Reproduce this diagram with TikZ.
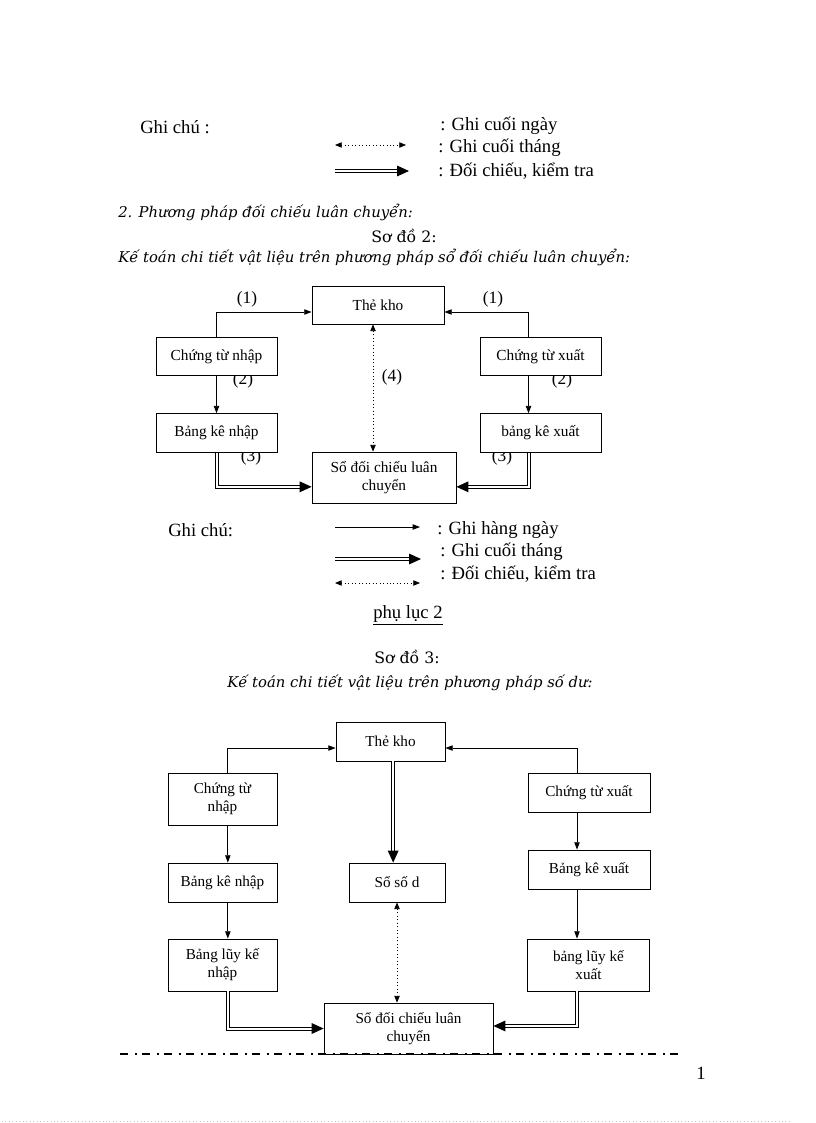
\documentclass[tikz,border=0pt]{standalone}
\usepackage{fontspec}
\setmainfont{Liberation Serif}
\newfontfamily\vnfont{DejaVu Serif}
\usetikzlibrary{arrows.meta}
\usetikzlibrary{positioning}

\tikzset{
  hop/.style={draw, line width=0.6pt, fill=white, inner sep=0pt, align=center,
    font=\fontsize{11.5}{14}\selectfont},
  hopb/.style={hop, font=\fontsize{11.4}{13.5}\selectfont},
  lbl/.style={font=\fontsize{13}{15}\selectfont},
  txt/.style={anchor=west, inner sep=0pt, font=\fontsize{14}{16}\selectfont},
  tde/.style={anchor=west, inner sep=0pt, font=\vnfont\itshape\fontsize{11.1}{13}\selectfont},
  nhat/.style={line width=0.6pt, -{Triangle[length=5.5pt,width=4pt]}},
  kep/.style={double, double distance=1.5pt, line width=0.75pt, -{Triangle[length=9pt,width=8pt]}},
  cham/.style={dotted, line width=0.6pt, {Triangle[length=5pt,width=4pt]}-{Triangle[length=5pt,width=4pt]}}
}

\begin{document}
\begin{tikzpicture}[x=0.75pt,y=-0.75pt]
\useasboundingbox (0,0) rectangle (816,1123);
% ghi chu tren
\node[txt] (gc1) at (140,127) {Ghi chú :};
\node[txt] (gc1a) at (440,126) {: Ghi cuối ngày};
\node[txt] (gc1b) at (438,148) {: Ghi cuối tháng};
\node[txt] (gc1c) at (438,171) {: Đối chiếu, kiểm tra};
\coordinate (l1bs) at (335,145);
\coordinate (l1be) at (406,145);
\coordinate (l1cs) at (335,171);
\coordinate (l1ce) at (409,171);
\draw[cham] (l1bs) -- (l1be);
\draw[kep] (l1cs) -- (l1ce);

% tieu de so do 2
\node[tde] (pp2) at (118,212) {2. Phương pháp đối chiếu luân chuyển:};
\node[font=\vnfont\fontsize{11.8}{13}\selectfont] (sd2) at (404,236) {Sơ đồ 2:};
\node[tde] (kt2) at (118,257) {Kế toán chi tiết vật liệu trên phương pháp sổ đối chiếu luân chuyển:};

% so do 2
\node[lbl] (n1a) at (247,299) {(1)};
\node[lbl] (n1b) at (493,299) {(1)};
\node[lbl] (n2a) at (243,380) {(2)};
\node[lbl] (n2b) at (562,380) {(2)};
\node[lbl] (n3a) at (251,457) {(3)};
\node[lbl] (n3b) at (502,457) {(3)};
\node[lbl] (n4) at (392,377) {(4)};

\node[hop, minimum width=99pt, minimum height=28.5pt] (the2) at (378,305) {Thẻ kho};
\node[hop, minimum width=90.75pt, minimum height=29pt] (ctn2) at (216.5,356.5) {Chứng từ nhập};
\node[hop, minimum width=90.75pt, minimum height=29pt] (bkn2) at (216.5,433) {Bảng kê nhập};
\node[hop, minimum width=90.75pt, minimum height=29pt] (ctx2) at (540.5,356.5) {Chứng từ xuất};
\node[hop, minimum width=90.75pt, minimum height=29pt] (bkx2) at (540.5,433) {bảng kê xuất};
\node[hop, minimum width=108pt, minimum height=38.25pt] (so2) at (384,477.5) {Sổ đối chiếu luân\\chuyển};

\draw[nhat] (ctn2.north) |- ([yshift=-5.25pt]the2.west);
\draw[nhat] ([xshift=-9pt]ctx2.north) |- ([yshift=-5.25pt]the2.east);
\draw[nhat] (ctn2) -- (bkn2);
\draw[nhat] ([xshift=-9pt]ctx2.south) -- ([xshift=-9pt]bkx2.north);
\draw[kep] (bkn2.south) |- ([yshift=-7pt]so2.west);
\draw[kep] ([xshift=-9pt]bkx2.south) |- ([yshift=-7pt]so2.east);
\draw[cham] ([xshift=-3.75pt]the2.south) -- ([xshift=-3.75pt]the2.south |- so2.north);

% ghi chu duoi
\node[txt] (gc2) at (168,530) {Ghi chú:};
\node[txt] (gc2a) at (437,530) {: Ghi hàng ngày};
\node[txt] (gc2b) at (440,552) {: Ghi cuối tháng};
\node[txt] (gc2c) at (440,574) {: Đối chiếu, kiểm tra};
\coordinate (l2as) at (335,527);
\coordinate (l2ae) at (420,527);
\coordinate (l2bs) at (335,559);
\coordinate (l2be) at (421,559);
\coordinate (l2cs) at (335,583);
\coordinate (l2ce) at (420,583);
\draw[nhat] (l2as) -- (l2ae);
\draw[kep] (l2bs) -- (l2be);
\draw[cham] (l2cs) -- (l2ce);
\node[font=\fontsize{14}{16}\selectfont] (pl2) at (408,615) {\underline{phụ lục 2}};

% tieu de so do 3
\node[font=\vnfont\fontsize{11.8}{13}\selectfont] (sd3) at (407,657) {Sơ đồ 3:};
\node[tde, anchor=center] (kt3) at (410,683) {Kế toán chi tiết vật liệu trên phương pháp số dư:};

% so do 3
\node[hopb, minimum width=81.75pt, minimum height=29.25pt] (the3) at (390.5,741.5) {Thẻ kho};
\node[hopb, minimum width=81.75pt, minimum height=39pt] (ctn3) at (222.5,799) {Chứng từ\\nhập};
\node[hopb, minimum width=81.75pt, minimum height=29.25pt] (bkn3) at (222.5,882.5) {Bảng kê nhập};
\node[hopb, minimum width=81.75pt, minimum height=39pt] (lkn3) at (222.5,965) {Bảng lũy kế\\nhập};
\node[hopb, minimum width=72pt, minimum height=29.25pt] (ssd3) at (397,882.5) {Sổ số d};
\node[hopb, minimum width=91.5pt, minimum height=29.25pt] (ctx3) at (589,792.5) {Chứng từ xuất};
\node[hopb, minimum width=91.5pt, minimum height=29.25pt] (bkx3) at (589,869.5) {Bảng kê xuất};
\node[hopb, minimum width=91pt, minimum height=39pt] (lkx3) at (588.5,965) {bảng lũy kế\\xuất};
\node[hopb, minimum width=126.75pt, minimum height=38.25pt] (so3) at (408.5,1028.5) {Sổ đối chiếu luân\\chuyển};

\draw[nhat] ([xshift=4pt]ctn3.north) |- ([yshift=-4.9pt]the3.west);
\draw[nhat] ([xshift=-9pt]ctx3.north) |- ([yshift=-4.9pt]the3.east);
\draw[nhat] ([xshift=4pt]ctn3.south) -- ([xshift=4pt]bkn3.north);
\draw[nhat] ([xshift=4pt]bkn3.south) -- ([xshift=4pt]lkn3.north);
\draw[nhat] ([xshift=-9pt]ctx3.south) -- ([xshift=-9pt]bkx3.north);
\draw[nhat] ([xshift=-9pt]bkx3.south) -- ([xshift=-9pt]bkx3.south |- lkx3.north);
\draw[kep] ([xshift=2pt]the3.south) -- ([xshift=2pt]the3.south |- ssd3.north);
\draw[cham] (ssd3.south) -- (ssd3.south |- so3.north);
\draw[kep] ([xshift=4pt]lkn3.south) |- (so3.west);
\draw[kep] ([xshift=-9pt]lkx3.south) |- ([yshift=1.9pt]so3.east);

% chan trang
\coordinate (dd1) at (120,1054);
\coordinate (dd2) at (680,1054);
\draw[line width=1.5pt, dash pattern=on 6pt off 5pt on 1.5pt off 4pt] (dd1) -- (dd2);
\node[font=\fontsize{14}{16}\selectfont] (trang) at (701,1073) {1};
\coordinate (vb1) at (2,1121);
\coordinate (vb2) at (790,1121);
\draw[gray!45, dotted, line width=0.6pt] (vb1) -- (vb2);
\end{tikzpicture}
\end{document}
